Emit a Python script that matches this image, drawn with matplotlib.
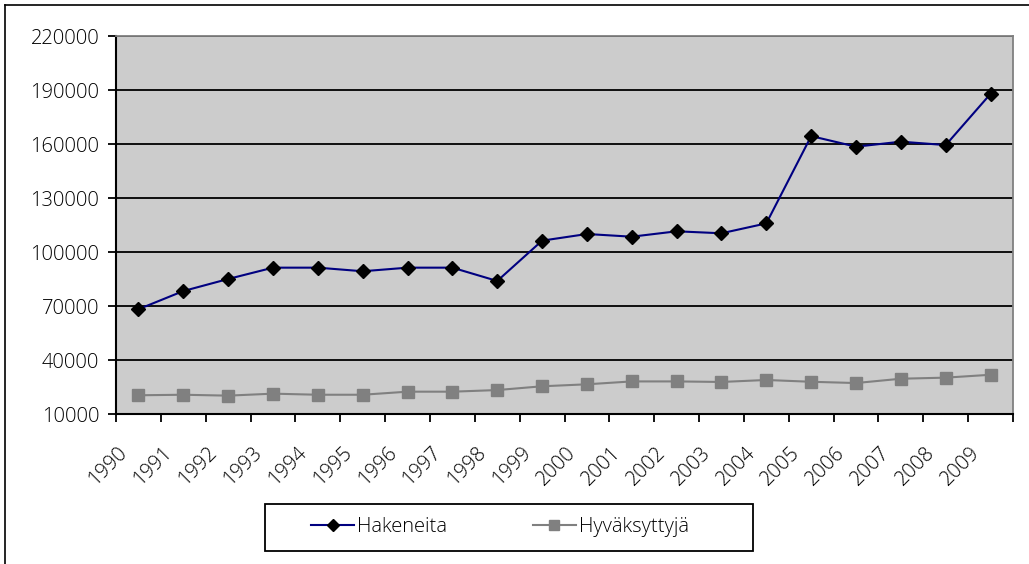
import matplotlib.pyplot as plt
import matplotlib.transforms as mtransforms
from matplotlib.lines import Line2D
from matplotlib.patches import Rectangle
import numpy as np

plt.rcParams['font.family'] = ['Open Sans', 'DejaVu Sans']
plt.rcParams['font.weight'] = 'light'

years = [str(y) for y in range(1990, 2010)]
hakeneita = [68200, 78300, 85000, 91300, 91300, 89300, 91300, 91300, 83900, 106300,
             110000, 108500, 111500, 110400, 115900, 164400, 158500, 161300, 159400, 187900]
hyvaksyttyja = [20400, 20700, 20200, 21300, 20700, 20700, 22400, 22400, 23300, 25400,
                26500, 28100, 28100, 27800, 28900, 27900, 27200, 29600, 30200, 31800]
yticks = [10000, 40000, 70000, 100000, 130000, 160000, 190000, 220000]

fig = plt.figure(figsize=(10.29, 5.64), dpi=100)
ax = fig.add_axes([116 / 1029, 1 - 414 / 564, (1013 - 116) / 1029, (414 - 36) / 564])
ax.set_facecolor('#cccccc')

x = np.arange(len(years))
ax.plot(x, hakeneita, color='#000080', lw=1.5, marker='D', ms=7.5,
        mfc='black', mec='black', label='Hakeneita', zorder=4)
ax.plot(x, hyvaksyttyja, color='#808080', lw=1.5, marker='s', ms=9,
        mfc='#808080', mec='#808080', label='Hyväksyttyjä', zorder=3)

ax.set_xlim(-0.5, len(years) - 0.5)
ax.set_ylim(10000, 220000)
ax.set_yticks(yticks)
ax.set_yticklabels([str(v) for v in yticks], fontsize=14.5)
for v in yticks[1:]:
    ax.axhline(v, color='black', lw=1.3, zorder=1)

# category boundaries get the tick marks, labels sit near category centres
ax.set_xticks(np.arange(-0.5, len(years)))
ax.set_xticklabels([])
ax.tick_params(axis='x', length=6, width=1.3, direction='out')
ax.tick_params(axis='y', length=6, width=1.3, direction='out', pad=6)
offset = mtransforms.ScaledTranslation(-0.14, -0.36, fig.dpi_scale_trans)
for i, yr in enumerate(years):
    ax.text(i, 0, yr, transform=ax.get_xaxis_transform() + offset, rotation=45,
            ha='right', va='center', rotation_mode='anchor', fontsize=14.5)

for side in ['left', 'bottom']:
    ax.spines[side].set_color('black')
    ax.spines[side].set_linewidth(1.5)
for side in ['top', 'right']:
    ax.spines[side].set_color('#808080')
    ax.spines[side].set_linewidth(1.3)

leg = fig.legend(loc='center', bbox_to_anchor=(500 / 1029, 1 - 527 / 564), ncol=2,
                 fontsize=14.5, frameon=False, columnspacing=4.3, handlelength=2.1,
                 handletextpad=0.15, borderpad=0, borderaxespad=0)
for h in leg.legend_handles:
    h.set_markersize(6.5)
fig.add_artist(Rectangle((265 / 1029, 1 - 551 / 564), (753 - 265) / 1029, 47 / 564,
                         transform=fig.transFigure, fill=False, edgecolor='black', lw=1.3))

# outer chart border (left and top visible)
fig.add_artist(Line2D([5 / 1029, 5 / 1029], [0, 1 - 5 / 564], color='black', lw=1.2))
fig.add_artist(Line2D([5 / 1029, 1], [1 - 5 / 564, 1 - 5 / 564], color='black', lw=1.2))

fig.savefig('out.png', dpi=100)
